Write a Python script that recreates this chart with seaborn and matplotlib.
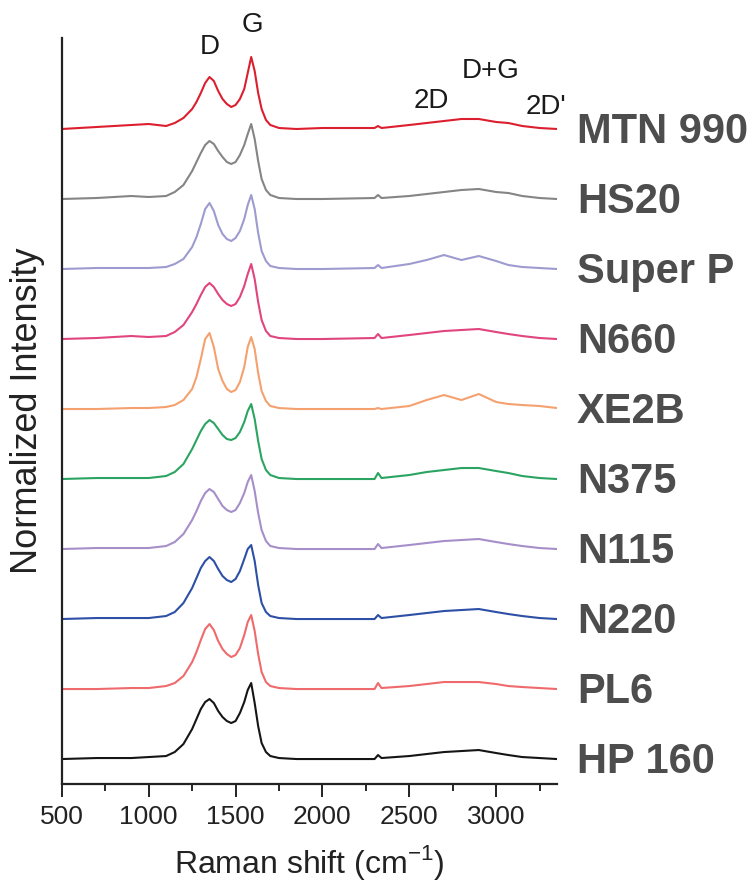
import pandas as pd
import seaborn as sns
import matplotlib.pyplot as plt
import matplotlib.transforms as mtransforms
from matplotlib.ticker import MultipleLocator

# Raman shift sample points (cm^-1)
shift = [500, 700, 900, 1000, 1100, 1150, 1200, 1250, 1275, 1300, 1325, 1350, 1375, 1400,
         1425, 1450, 1475, 1500, 1525, 1550, 1570, 1590, 1610, 1630, 1650, 1675, 1700, 1750,
         1850, 2000, 2300, 2320, 2340, 2500, 2600, 2700, 2800, 2900, 3000, 3070, 3150, 3250, 3350]

# normalized intensities (a.u.), bottom trace first
hp160 = [0, 1, 1, 2, 3, 7, 15, 30, 40, 50, 57, 60, 56, 48, 42, 38, 36, 38, 46, 57, 69, 76, 56, 33,
         16, 7, 3, 1, 0, 0, 0, 4, 1, 3, 5, 7, 8, 9, 6, 4, 2, 1, 0]
pl6 = [0, 0, 1, 1, 3, 6, 13, 27, 37, 49, 60, 65, 59, 48, 40, 35, 32, 34, 41, 54, 67, 74, 58, 35,
       17, 7, 3, 1, 0, 0, 0, 6, 1, 3, 5, 7, 7, 7, 5, 3, 2, 1, 0]
n220 = [0, 1, 1, 1, 3, 7, 16, 31, 41, 51, 58, 62, 58, 50, 43, 39, 37, 40, 48, 60, 70, 74, 58, 34,
        16, 7, 3, 1, 0, 0, 0, 4, 1, 4, 6, 8, 9, 10, 7, 5, 3, 1, 0]
n115 = [0, 1, 1, 1, 3, 7, 15, 29, 38, 48, 56, 60, 57, 50, 43, 39, 37, 39, 46, 56, 67, 74, 58, 36,
        19, 8, 3, 1, 0, 0, 0, 5, 1, 4, 6, 8, 9, 10, 7, 5, 3, 1, 0]
n375 = [0, 1, 1, 1, 3, 7, 15, 30, 39, 48, 55, 59, 56, 50, 44, 40, 39, 41, 47, 57, 68, 75, 60, 38,
        20, 9, 4, 1, 0, 0, 0, 6, 1, 4, 7, 9, 11, 11, 8, 6, 3, 1, 0]
xe2b = [0, 0, 1, 1, 2, 4, 9, 20, 32, 50, 70, 76, 62, 40, 28, 20, 17, 19, 27, 42, 62, 72, 60, 36,
        18, 8, 3, 1, 0, 0, 0, 1, 0, 3, 9, 14, 9, 15, 7, 5, 4, 3, 1]
n660 = [0, 1, 3, 2, 3, 7, 14, 27, 35, 44, 52, 56, 52, 45, 39, 35, 33, 35, 42, 53, 65, 75, 60, 37,
        19, 8, 3, 1, 0, 0, 1, 5, 1, 4, 6, 8, 9, 10, 7, 5, 3, 1, 0]
superp = [0, 1, 1, 1, 2, 5, 10, 22, 32, 45, 60, 66, 58, 44, 35, 30, 28, 31, 38, 50, 64, 74, 60, 36,
          18, 8, 3, 1, 0, 0, 1, 4, 1, 5, 9, 14, 9, 13, 8, 4, 2, 1, 0]
hs20 = [0, 1, 3, 2, 3, 7, 14, 28, 37, 46, 54, 58, 55, 48, 42, 37, 35, 37, 44, 54, 65, 75, 60, 38,
        20, 9, 4, 1, 0, 0, 1, 4, 1, 3, 5, 7, 9, 10, 7, 6, 3, 1, 0]
mtn990 = [0, 2, 4, 5, 3, 6, 11, 20, 27, 36, 46, 52, 48, 38, 30, 25, 22, 24, 30, 40, 56, 72, 58, 36,
          20, 9, 4, 1, 0, 1, 1, 3, 1, 4, 6, 8, 10, 10, 7, 6, 3, 1, 0]

samples = ["HP 160", "PL6", "N220", "N115", "N375", "XE2B", "N660", "Super P", "HS20", "MTN 990"]
spectra = [hp160, pl6, n220, n115, n375, xe2b, n660, superp, hs20, mtn990]
colors = ["#151515", "#ef6a6c", "#2d4fa6", "#a68fc9", "#2ba462", "#f5a16f",
          "#e0457e", "#9d9bcf", "#858585", "#dc1f2e"]

step = 70
rows = []
for i, (name, vals) in enumerate(zip(samples, spectra)):
    for x, v in zip(shift, vals):
        rows.append({"shift": x, "y": v + i * step, "sample": name})
df = pd.DataFrame(rows)

sns.set_style("ticks")
plt.rcParams["font.family"] = ["Liberation Sans", "DejaVu Sans"]

fig = plt.figure(figsize=(7.55, 8.94), dpi=100)
ax = fig.add_axes([0.0819, 0.123, 0.6558, 0.8345])

sns.lineplot(data=df, x="shift", y="y", hue="sample", palette=dict(zip(samples, colors)),
             legend=False, linewidth=1.5, ax=ax)

ax.set_xlim(500, 3350)
ax.set_ylim(-25, 721)
ax.set_yticks([])
ax.xaxis.set_major_locator(MultipleLocator(500))
ax.xaxis.set_minor_locator(MultipleLocator(250))
ax.tick_params(axis="x", which="major", length=9, width=1.4, labelsize=19, colors="#222222", pad=6)
ax.tick_params(axis="x", which="minor", length=5, width=1.4)
sns.despine(ax=ax)
for s in ["left", "bottom"]:
    ax.spines[s].set_linewidth(1.6)
    ax.spines[s].set_color("#222222")

ax.set_xlabel("Raman shift (cm$^{\\mathregular{-1}}$)", fontsize=23, color="#222222", labelpad=10)
ax.set_ylabel("Normalized Intensity", fontsize=26, color="#222222", labelpad=12)

# peak annotations
ax.text(1350, 712, "D", fontsize=20, ha="center", va="center", color="#1a1a1a", clip_on=False)
ax.text(1596, 734, "G", fontsize=20, ha="center", va="center", color="#1a1a1a", clip_on=False)
ax.text(2628, 658, "2D", fontsize=20, ha="center", va="center", color="#1a1a1a")
ax.text(2967, 688, "D+G", fontsize=20, ha="center", va="center", color="#1a1a1a")
ax.text(3170, 652, "2D'", fontsize=20, ha="left", va="center", color="#1a1a1a", clip_on=False)

# sample names on the right
trans = mtransforms.blended_transform_factory(ax.transAxes, ax.transData)
for i, name in enumerate(samples):
    ax.text(1.04, i * step - 3, name, transform=trans, fontsize=30, fontweight="bold",
            color="#4d4d4d", ha="left", va="center", clip_on=False)

fig.savefig("out.png", dpi=100)
